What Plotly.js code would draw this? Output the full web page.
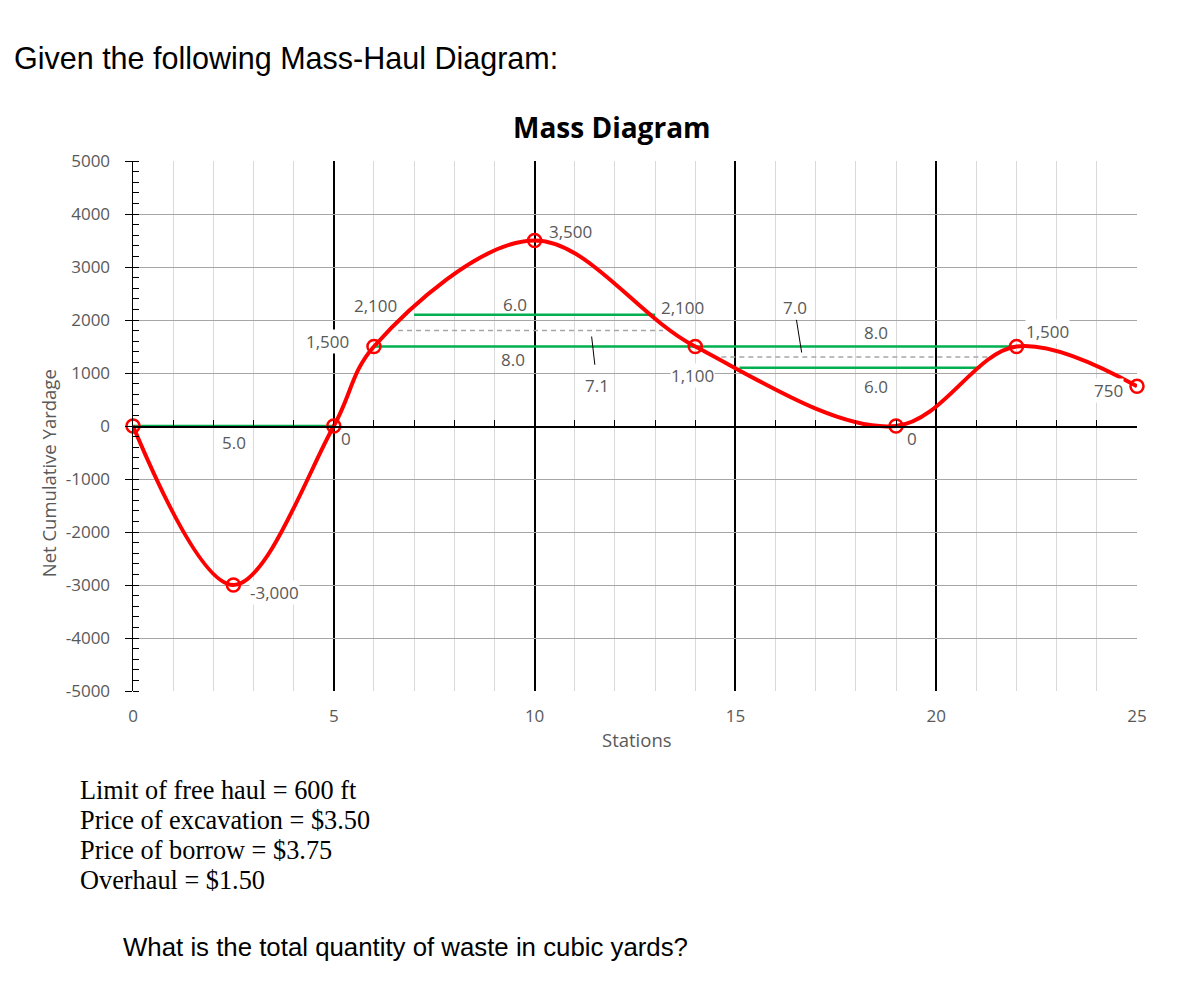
<!DOCTYPE html>
<html>
<head>
<meta charset="utf-8">
<script src="https://cdn.plot.ly/plotly-3.0.1.min.js"></script>
<style>
  html, body { margin: 0; padding: 0; background: #fff; }
  #chart { width: 1200px; height: 987px; }
</style>
</head>
<body>
<div id="chart"></div>
<script>
// ---- data ----
const stations = [0, 2.5, 5, 6, 10, 14, 19, 22, 25];
const netYardage = [0, -3000, 0, 1500, 3500, 1500, 0, 1500, 750];

// green balance lines
const balanceStartX = [0, 7, 6, 15.1];
const balanceEndX = [5, 13, 22, 21.1];
const balanceY = [0, 2100, 1500, 1100];

// grey dashed average lines
const dashStartX = [6.6, 14.65];
const dashEndX = [13.2, 21.4];
const dashY = [1800, 1300];

// data labels (opaque = label has a white fill)
const labelText = ['5.0', '0', '1,500', '2,100', '-3,000', '3,500', '6.0', '8.0', '7.1', '2,100', '1,100', '7.0', '8.0', '6.0', '0', '1,500', '750'];
const labelX = [2.51, 5.31, 4.85, 6.03, 3.52, 10.9, 9.51, 9.47, 11.55, 13.69, 13.94, 16.48, 18.51, 18.51, 19.4, 22.78, 24.3];
const labelY = [-310, -240, 1594, 2267, -3149, 3667, 2298, 1261, 759, 2242, 947, 2242, 1764, 746, -228, 1783, 670];
const labelOpaque = [false, false, true, false, true, false, false, false, false, false, true, false, false, false, false, true, true];

// leader lines
const leaderX0 = [11.42, 16.52];
const leaderY0 = [1688, 2003];
const leaderX1 = [11.5, 16.65];
const leaderY1 = [1155, 1386];

// axis ticks
const xTickVals = [0, 5, 10, 15, 20, 25];
const xTickLabels = ['0', '5', '10', '15', '20', '25'];
const yTickVals = [-5000, -4000, -3000, -2000, -1000, 0, 1000, 2000, 3000, 4000, 5000];
const yTickLabels = ['-5000', '-4000', '-3000', '-2000', '-1000', '0', '1000', '2000', '3000', '4000', '5000'];

const infoLines = ['Limit of free haul = 600 ft', 'Price of excavation = $3.50', 'Price of borrow = $3.75', 'Overhaul = $1.50'];
const headerText = 'Given the following Mass-Haul Diagram:';
const questionText = 'What is the total quantity of waste in cubic yards?';
const chartTitle = 'Mass Diagram';

// ---- geometry of plot area (pixels) ----
const W = 1200, H = 987;
const L = 132.5, R = 1137.5, T = 161, B = 691.5;
const px = v => (v - L) / (R - L);
const py = v => (B - v) / (B - T);

const traces = [];
for (let i = 0; i < balanceY.length; i++) {
  traces.push({
    x: [balanceStartX[i], balanceEndX[i]], y: [balanceY[i], balanceY[i]],
    xaxis: 'x2', yaxis: 'y', mode: 'lines', hoverinfo: 'skip',
    line: { color: '#00b050', width: 2.5 }, showlegend: false
  });
}
for (let i = 0; i < dashY.length; i++) {
  traces.push({
    x: [dashStartX[i], dashEndX[i]], y: [dashY[i], dashY[i]],
    xaxis: 'x2', yaxis: 'y', mode: 'lines', hoverinfo: 'skip',
    line: { color: '#a6a6a6', width: 1.5, dash: '5px,4px' }, showlegend: false
  });
}
traces.push({
  x: stations, y: netYardage, xaxis: 'x2', yaxis: 'y',
  mode: 'lines+markers', cliponaxis: false,
  line: { color: '#ff0000', width: 4, shape: 'spline', smoothing: 1 },
  marker: { symbol: 'circle-open', size: 13, color: '#ff0000', line: { width: 2.5, color: '#ff0000' } },
  showlegend: false
});

const labelFont = { family: 'Open Sans, sans-serif', size: 17, color: '#595959' };
const annotations = [];
for (let i = 0; i < labelText.length; i++) {
  annotations.push({
    x: labelX[i], y: labelY[i], xref: 'x', yref: 'y', text: labelText[i],
    showarrow: false, font: labelFont,
    bgcolor: labelOpaque[i] ? '#ffffff' : 'rgba(0,0,0,0)', borderpad: 0,
    xanchor: 'center', yanchor: 'middle'
  });
}
annotations.push({
  x: px(11), y: py(58), xref: 'paper', yref: 'paper',
  text: headerText, showarrow: false, xanchor: 'left', yanchor: 'middle',
  font: { family: 'Liberation Sans, Arial, sans-serif', size: 30.5, color: '#000' }
});
annotations.push({
  x: px(120), y: py(948), xref: 'paper', yref: 'paper',
  text: questionText, showarrow: false, xanchor: 'left', yanchor: 'middle',
  font: { family: 'Liberation Sans, Arial, sans-serif', size: 25.8, color: '#000' }
});
const infoY = [791, 821, 851, 881];
for (let i = 0; i < infoLines.length; i++) {
  annotations.push({
    x: px(77), y: py(infoY[i]), xref: 'paper', yref: 'paper',
    text: infoLines[i], showarrow: false, xanchor: 'left', yanchor: 'middle',
    font: { family: 'Liberation Serif, Times New Roman, serif', size: 26.3, color: '#000' }
  });
}
annotations.push({
  x: px(611.5), y: py(127), xref: 'paper', yref: 'paper',
  text: '<b>' + chartTitle + '</b>', showarrow: false, xanchor: 'center', yanchor: 'middle',
  font: { family: 'Open Sans, sans-serif', size: 28, color: '#000' }
});
annotations.push({
  x: px(48), y: py(474), xref: 'paper', yref: 'paper', textangle: -90,
  text: 'Net Cumulative Yardage', showarrow: false, xanchor: 'center', yanchor: 'middle',
  font: { family: 'Open Sans, sans-serif', size: 18.5, color: '#595959' }
});
annotations.push({
  x: px(637), y: py(740), xref: 'paper', yref: 'paper',
  text: 'Stations', showarrow: false, xanchor: 'center', yanchor: 'middle',
  font: { family: 'Open Sans, sans-serif', size: 18.5, color: '#595959' }
});

const shapes = [];
for (let i = 0; i < leaderX0.length; i++) {
  shapes.push({
    type: 'line', xref: 'x', yref: 'y',
    x0: leaderX0[i], y0: leaderY0[i], x1: leaderX1[i], y1: leaderY1[i],
    line: { color: '#000', width: 1 }
  });
}

const tickFont = { family: 'Open Sans, sans-serif', size: 17, color: '#595959' };
const layout = {
  width: W, height: H,
  margin: { l: L, r: W - R, t: T, b: H - B, pad: 0 },
  paper_bgcolor: '#fff', plot_bgcolor: '#fff',
  showlegend: false,
  xaxis: {
    range: [0, 25], tickmode: 'array', tickvals: xTickVals, ticktext: xTickLabels,
    showgrid: true, gridcolor: '#000000', gridwidth: 2,
    minor: { tick0: 0, dtick: 1, showgrid: true, gridcolor: '#d9d9d9', gridwidth: 1 },
    ticks: '', showline: false, zeroline: false,
    tickfont: tickFont, ticklabelstandoff: 13, fixedrange: true
  },
  xaxis2: {
    overlaying: 'x', anchor: 'free', position: 0.5, range: [0, 25],
    showline: true, linecolor: '#000', linewidth: 1.5,
    ticks: 'inside', ticklen: 6, tickcolor: '#000', tickwidth: 1,
    tickmode: 'linear', tick0: 0, dtick: 1,
    showticklabels: false, showgrid: false, zeroline: false, fixedrange: true
  },
  yaxis: {
    range: [-5000, 5000], tickmode: 'array', tickvals: yTickVals, ticktext: yTickLabels,
    showgrid: true, gridcolor: '#a6a6a6', gridwidth: 1,
    showline: true, linecolor: '#000', linewidth: 1.5,
    ticks: 'outside', ticklen: 7, tickcolor: '#000', tickwidth: 1,
    minor: { tick0: -5000, dtick: 200, ticks: 'inside', ticklen: 6, tickcolor: '#000', tickwidth: 1, showgrid: false },
    zeroline: false, tickfont: tickFont, ticklabelstandoff: 11, fixedrange: true
  },
  annotations: annotations,
  shapes: shapes
};

Plotly.newPlot('chart', traces, layout, { staticPlot: true });
</script>
</body>
</html>
